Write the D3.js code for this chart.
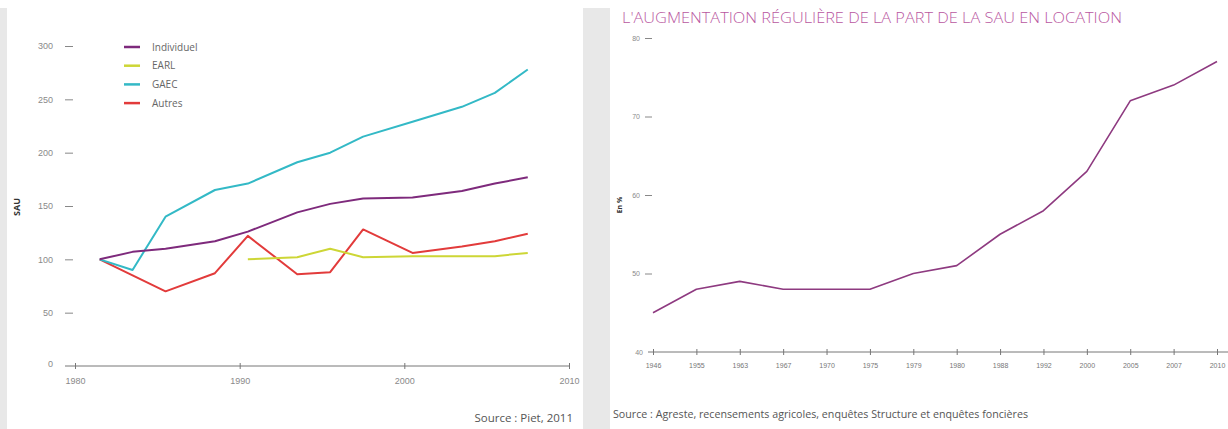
<!DOCTYPE html>
<html>
<head>
<meta charset="utf-8">
<script src="https://cdn.jsdelivr.net/npm/d3@7"></script>
<style>
  body { margin: 0; background: #fff; }
  svg { display: block; font-family: "Open Sans", Lato, sans-serif; }
</style>
</head>
<body>
<svg id="chart" width="1228" height="429"></svg>
<script>
// left chart : SAU par forme juridique (base 100)
const years = [1981, 1983, 1985, 1988, 1990, 1993, 1995, 1997, 2000, 2003, 2005, 2007];
const individuel = [100, 107, 110, 117, 126, 144, 152, 157, 158, 164, 171, 177];
const earl = [null, null, null, null, 100, 102, 110, 102, 103, 103, 103, 106];
const gaec = [100, 90, 140, 165, 171, 191, 200, 215, 229, 243, 256, 278];
const autres = [100, 85, 70, 87, 122, 86, 88, 128, 106, 112, 117, 124];
const leftXTicks = [1980, 1990, 2000, 2010];
const leftYTicks = [0, 50, 100, 150, 200, 250, 300];

// right chart : part de la SAU en location (%)
const locYears = ['1946', '1955', '1963', '1967', '1970', '1975', '1979', '1980', '1988', '1992', '2000', '2005', '2007', '2010'];
const locPart = [45, 48, 49, 48, 48, 48, 50, 51, 55, 58, 63, 72, 74, 77];
const rightYTicks = [40, 50, 60, 70, 80];

const svg = d3.select('#chart');

// grey frames
svg.append('rect').attr('x', 0).attr('y', 8).attr('width', 7).attr('height', 421).attr('fill', '#e8e8e8');
svg.append('rect').attr('x', 583).attr('y', 8).attr('width', 27).attr('height', 421).attr('fill', '#e8e8e8');

// ---------- left chart ----------
const series = [
  { name: 'Individuel', values: individuel, color: '#7e2a7c' },
  { name: 'EARL', values: earl, color: '#cdd636' },
  { name: 'GAEC', values: gaec, color: '#33b9c6' },
  { name: 'Autres', values: autres, color: '#e23b3b' },
];

// points are placed mid-year
const x = d3.scaleTime()
  .domain([new Date(1980, 0, 1), new Date(2010, 0, 1)])
  .range([75, 569]);
const y = d3.scaleLinear().domain([0, 300]).range([366, 46]);

const xAxis = svg.append('g')
  .attr('transform', 'translate(0,366)')
  .call(d3.axisBottom(x)
    .tickValues(leftXTicks.map(d => new Date(d, 0, 1)))
    .tickFormat(d3.timeFormat('%Y'))
    .tickSizeOuter(0)
    .tickSize(3)
    .tickPadding(9));
xAxis.select('.domain').attr('d', 'M65,0H570').attr('stroke', '#777');
xAxis.selectAll('.tick line').attr('y1', -3).attr('y2', 3).attr('stroke', '#777');
xAxis.selectAll('.tick text').attr('fill', '#8a8a8a').style('font-size', '9px');

const yAxis = svg.append('g')
  .attr('transform', 'translate(73,0)')
  .call(d3.axisLeft(y).tickValues(leftYTicks).tickSize(8).tickPadding(12));
yAxis.select('.domain').remove();
yAxis.selectAll('.tick line').attr('stroke', '#888').attr('stroke-width', 1);
yAxis.selectAll('.tick').filter(d => d === 0).select('line').remove();
yAxis.selectAll('.tick').filter(d => d === 0).select('text').attr('dy', '0.1em').attr('x', -20);
yAxis.selectAll('.tick text').attr('fill', '#8a8a8a').style('font-size', '9px');

svg.append('text')
  .attr('transform', 'translate(20,207) rotate(-90)')
  .attr('text-anchor', 'middle')
  .attr('fill', '#333')
  .style('font-size', '9px')
  .style('font-weight', 'bold')
  .text('SAU');

const line = d3.line()
  .defined(d => d.v != null)
  .x(d => x(new Date(d.year, 6, 1)))
  .y(d => y(d.v));

svg.append('g').selectAll('path')
  .data(series.slice().reverse())
  .join('path')
  .attr('d', s => line(years.map((yr, i) => ({ year: yr, v: s.values[i] }))))
  .attr('fill', 'none')
  .attr('stroke', s => s.color)
  .attr('stroke-width', 2)
  .attr('stroke-linejoin', 'round');

const legend = svg.append('g').selectAll('g')
  .data(series)
  .join('g')
  .attr('transform', (d, i) => `translate(124,${47 + i * 18.7})`);
legend.append('line')
  .attr('x1', 0).attr('x2', 16)
  .attr('stroke', d => d.color)
  .attr('stroke-width', 2.5);
legend.append('text')
  .attr('x', 28).attr('dy', '0.35em')
  .attr('fill', '#666')
  .style('font-size', '10px')
  .text(d => d.name);

svg.append('text')
  .attr('x', 573).attr('y', 422)
  .attr('text-anchor', 'end')
  .attr('fill', '#555')
  .style('font-size', '11.5px')
  .text('Source : Piet, 2011');

// ---------- right chart ----------
svg.append('text')
  .attr('x', 622).attr('y', 23)
  .attr('fill', '#b9579f')
  .attr('textLength', 500)
  .attr('lengthAdjust', 'spacingAndGlyphs')
  .style('font-size', '15px')
  .style('font-weight', 300)
  .text("L'AUGMENTATION RÉGULIÈRE DE LA PART DE LA SAU EN LOCATION");

const xR = d3.scalePoint().domain(locYears).range([653, 1217]);
const yR = d3.scaleLinear().domain([40, 80]).range([352, 38]);

const xAxisR = svg.append('g')
  .attr('transform', 'translate(0,352)')
  .call(d3.axisBottom(xR).tickSize(3).tickSizeOuter(0).tickPadding(8));
xAxisR.select('.domain').attr('d', 'M648,0H1228').attr('stroke', '#777');
xAxisR.selectAll('.tick line').attr('y1', -3).attr('y2', 3).attr('stroke', '#777');
xAxisR.selectAll('.tick text').attr('fill', '#777').style('font-size', '7px');

const yAxisR = svg.append('g')
  .attr('transform', 'translate(652,0)')
  .call(d3.axisLeft(yR).tickValues(rightYTicks).tickSize(7).tickPadding(5));
yAxisR.select('.domain').remove();
yAxisR.selectAll('.tick').filter(d => d === 40).select('line').remove();
yAxisR.selectAll('.tick').filter(d => d === 40).select('text').attr('x', -9);
yAxisR.selectAll('.tick line').attr('stroke', '#888');
yAxisR.selectAll('.tick text').attr('fill', '#8a8a8a').style('font-size', '7px');

svg.append('text')
  .attr('transform', 'translate(622,205) rotate(-90)')
  .attr('text-anchor', 'middle')
  .attr('fill', '#333')
  .style('font-size', '7px')
  .style('font-weight', 'bold')
  .text('En %');

svg.append('path')
  .datum(locYears.map((yr, i) => ({ yr, v: locPart[i] })))
  .attr('d', d3.line().x(d => xR(d.yr)).y(d => yR(d.v)))
  .attr('fill', 'none')
  .attr('stroke', '#8e3a80')
  .attr('stroke-width', 1.6)
  .attr('stroke-linejoin', 'round');

svg.append('text')
  .attr('x', 613).attr('y', 418)
  .attr('fill', '#555')
  .attr('textLength', 415)
  .attr('lengthAdjust', 'spacingAndGlyphs')
  .style('font-size', '10px')
  .text('Source :  Agreste, recensements agricoles, enquêtes Structure et enquêtes foncières');
</script>
</body>
</html>
